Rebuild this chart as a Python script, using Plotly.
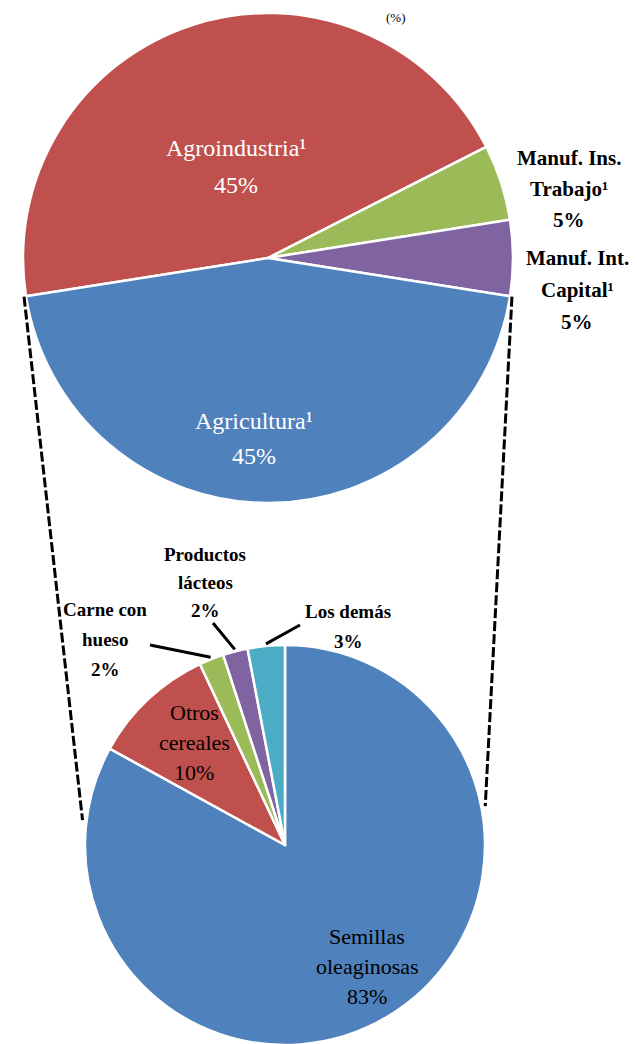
import math
import plotly.graph_objects as go

# ---------------- data ----------------
top_labels = ["Agroindustria¹", "Manuf. Ins. Trabajo¹", "Manuf. Int. Capital¹", "Agricultura¹"]
top_values = [45, 5, 5, 45]
top_colors = ["#C0504D", "#9BBB59", "#8064A2", "#4F81BD"]

bot_labels = ["Semillas oleaginosas", "Otros cereales", "Carne con hueso", "Productos lácteos", "Los demás"]
bot_values = [83, 10, 2, 2, 3]
bot_colors = ["#4F81BD", "#C0504D", "#9BBB59", "#8064A2", "#4BACC6"]

# ---------------- geometry (page pixels) ----------------
W, H = 637, 1044
OFF = 8  # the page body margin shifts the figure by this many pixels
TOP = dict(cx=268, cy=258, r=245, rot=261)
BOT = dict(cx=285, cy=845, r=200, rot=0)


def px(x, y):
    return (x - OFF) / W, 1 - (y - OFF) / H


def domain(p):
    x0, y1 = px(p["cx"] - p["r"], p["cy"] - p["r"])
    x1, y0 = px(p["cx"] + p["r"], p["cy"] + p["r"])
    return dict(x=[x0, x1], y=[y0, y1])


def polar(p, ang, rr):
    a = math.radians(ang)
    return p["cx"] + rr * math.sin(a), p["cy"] - rr * math.cos(a)


def slice_angles(values, rot):
    tot = sum(values)
    out, cur = [], rot
    for v in values:
        span = 360 * v / tot
        out.append((cur, cur + span))
        cur += span
    return out


fig = go.Figure()
for p, labels, values, colors in [(TOP, top_labels, top_values, top_colors),
                                  (BOT, bot_labels, bot_values, bot_colors)]:
    fig.add_trace(go.Pie(
        labels=labels, values=values, sort=False, direction="clockwise",
        rotation=p["rot"], domain=domain(p), textinfo="none", hoverinfo="label+percent",
        marker=dict(colors=colors, line=dict(color="white", width=2.5)),
        showlegend=False,
    ))

serif = "Liberation Serif, Times New Roman, serif"
ann = []


def label(x, y0, dy, lines, color, size, bold=False):
    for k, t in enumerate(lines):
        xx, yy = px(x, y0 + k * dy)
        if bold:
            t = "<b>" + t + "</b>"
        ann.append(dict(x=xx, y=yy, xref="paper", yref="paper", text=t, showarrow=False,
                        font=dict(family=serif, size=size, color=color),
                        xanchor="center", yanchor="middle"))


tp = [f"{v}%" for v in top_values]
bp = [f"{v}%" for v in bot_values]

label(236, 148, 37, [top_labels[0], tp[0]], "white", 24)
label(254, 421, 35, [top_labels[3], tp[3]], "white", 24)
label(569, 158, 31, ["Manuf. Ins.", "Trabajo¹", tp[1]], "black", 21, bold=True)
label(577, 258, 32, ["Manuf. Int.", "Capital¹", tp[2]], "black", 21, bold=True)

label(194, 712, 30, ["Otros", "cereales", bp[1]], "black", 22)
label(367, 936, 30, ["Semillas", "oleaginosas", bp[0]], "black", 22)
label(105, 609, 30, ["Carne con", "hueso", bp[2]], "black", 19, bold=True)
label(205, 554, 28, ["Productos", "lácteos", bp[3]], "black", 19, bold=True)
label(348, 611, 30, ["Los demás", bp[4]], "black", 19, bold=True)

# title fragment at the very top
tx, ty = px(396, 8)
ann.append(dict(x=tx, y=ty, xref="paper", yref="paper", text="(%)", showarrow=False,
                font=dict(family=serif, size=13, color="black"), xanchor="center", yanchor="top"))

shapes = []


def seg(a, b, width, dash):
    x0, y0 = px(*a)
    x1, y1 = px(*b)
    shapes.append(dict(type="line", xref="paper", yref="paper", x0=x0, y0=y0, x1=x1, y1=y1,
                       line=dict(color="black", width=width, dash=dash)))


# leader lines for small bottom slices
bang = slice_angles(bot_values, BOT["rot"])
outer_pts = {2: (150, 645), 3: (213, 623), 4: (300, 625)}
for i, pt in outer_pts.items():
    mid = (bang[i][0] + bang[i][1]) / 2
    seg(pt, polar(BOT, mid, BOT["r"] + 2), 3, "solid")

# connector lines between the two pies
tang = slice_angles(top_values, TOP["rot"])
left_top = polar(TOP, tang[0][0], TOP["r"] + 2)
right_top = polar(TOP, tang[3][0], TOP["r"] + 2)
seg(left_top, polar(BOT, 277, BOT["r"] + 4), 3, "10px,3px")
seg(right_top, polar(BOT, 79, BOT["r"] + 4), 3, "10px,3px")

fig.update_layout(
    width=W, height=H, margin=dict(l=0, r=0, t=0, b=0),
    paper_bgcolor="white", plot_bgcolor="white",
    annotations=ann, shapes=shapes,
)
fig.write_html("out.html")
